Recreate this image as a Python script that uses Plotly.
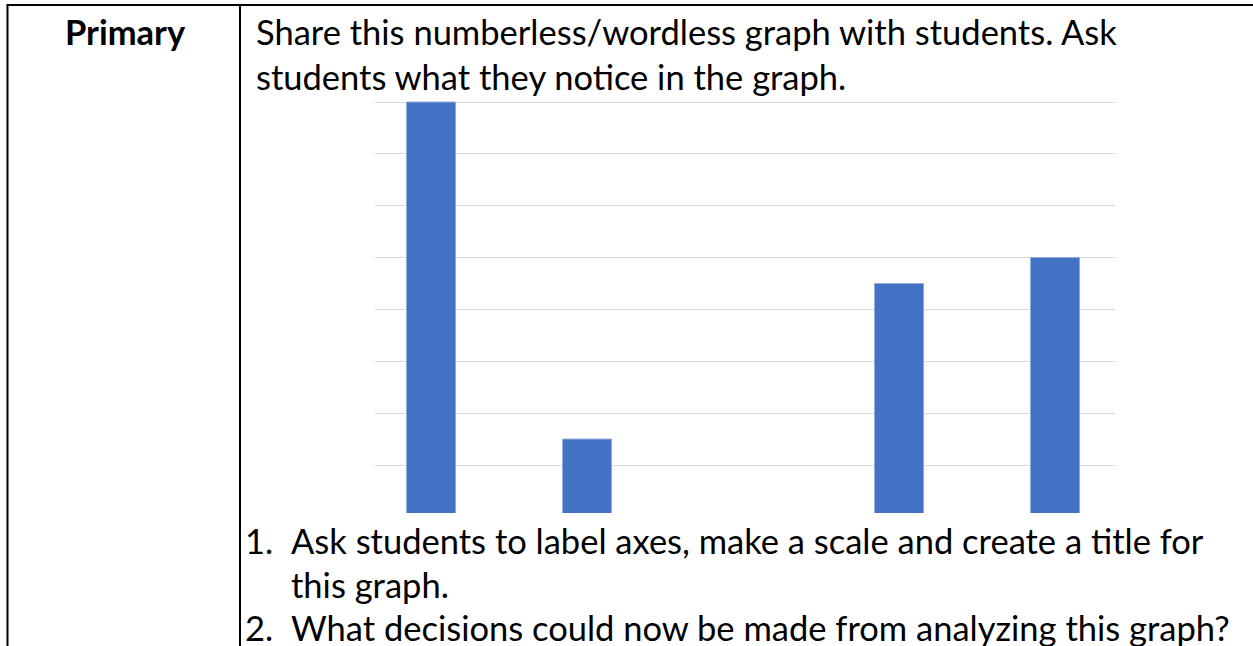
import plotly.graph_objects as go

W, H = 1253, 646

categories = [1, 2, 3, 4, 5]
values = [8, 1.5, 0, 4.5, 5]

label_text = "Primary"
intro_lines = [
    "Share this numberless/wordless graph with students. Ask",
    "students what they notice in the graph.",
]
list_numbers = ["1.", "", "2."]
list_lines = [
    "Ask students to label axes, make a scale and create a title for",
    "this graph.",
    "What decisions could now be made from analyzing this graph?",
]

FONT = "Lato"
FS = 34.5


def px(x):
    return x / W


def py(y):
    return (H - y) / H


fig = go.Figure()
fig.add_trace(go.Bar(
    x=categories, y=values, width=0.314,
    marker=dict(color="#4472C4", line=dict(color="#8FAADC", width=1)),
    hoverinfo="skip",
))

unit = (465 - 102) / 7.0
y_top = 8 + (102 - 100) / unit
y_bot = 8 - (513 - 102) / unit
x_left = 1 - (431 - 375) / 156.0
x_right = 5 + (1115 - 1055) / 156.0

fig.update_layout(
    width=W, height=H,
    margin=dict(l=0, r=0, t=0, b=0),
    paper_bgcolor="white", plot_bgcolor="white",
    showlegend=False,
    xaxis=dict(domain=[px(375), px(1115)], range=[x_left, x_right],
               showticklabels=False, showgrid=False, zeroline=False,
               ticks="", showline=False, fixedrange=True),
    yaxis=dict(domain=[py(513), py(100)], range=[y_bot, y_top],
               tickmode="linear", tick0=0, dtick=1,
               showticklabels=False, showgrid=True, gridcolor="#D9D9D9",
               gridwidth=1, zeroline=False, ticks="", showline=False,
               fixedrange=True),
)

# table borders
line_style = dict(color="black", width=2)
fig.add_shape(type="line", xref="paper", yref="paper",
              x0=px(6.5), x1=px(1253), y0=py(5), y1=py(5), line=line_style)
fig.add_shape(type="line", xref="paper", yref="paper",
              x0=px(7.5), x1=px(7.5), y0=py(5), y1=py(650), line=line_style)
fig.add_shape(type="line", xref="paper", yref="paper",
              x0=px(240), x1=px(240), y0=py(5), y1=py(650), line=line_style)


def add_text(x, y, s, bold=False, anchor="left"):
    fig.add_annotation(
        xref="paper", yref="paper", x=px(x), y=py(y),
        xanchor=anchor, yanchor="middle", showarrow=False,
        text=("<b>%s</b>" % s) if bold else s,
        font=dict(family=FONT, size=FS, color="black"),
    )


add_text(125, 31, label_text, bold=True, anchor="center")
intro_y = [31, 76]
for yy, s in zip(intro_y, intro_lines):
    add_text(254, yy, s)

list_y = [540, 584, 627]
for yy, n, s in zip(list_y, list_numbers, list_lines):
    if n:
        add_text(243, yy, n)
    add_text(289, yy, s)

fig.write_html(
    "out.html",
    config={"displayModeBar": False},
    post_script="document.body.style.margin='0';document.body.style.overflow='hidden';",
)
